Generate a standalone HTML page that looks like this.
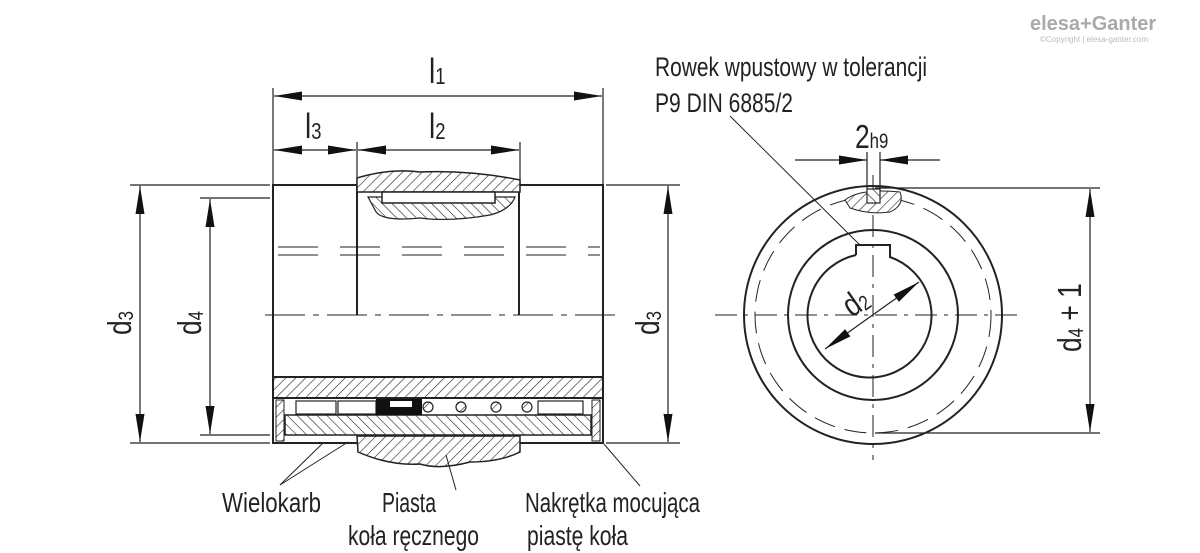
<!DOCTYPE html>
<html><head><meta charset="utf-8"><style>
html,body{margin:0;padding:0;background:#fff;}
svg{display:block;}
text{font-family:"Liberation Sans",sans-serif;fill:#222;}
</style></head><body>
<svg width="1200" height="553" viewBox="0 0 1200 553" xmlns="http://www.w3.org/2000/svg">
<defs>
<pattern id="h" patternUnits="userSpaceOnUse" width="7" height="7" patternTransform="rotate(45)">
<rect width="7" height="7" fill="#fff"/><line x1="0" y1="0" x2="0" y2="7" stroke="#222" stroke-width="1.2"/></pattern>
<pattern id="h2" patternUnits="userSpaceOnUse" width="7" height="7" patternTransform="rotate(-45)">
<rect width="7" height="7" fill="#fff"/><line x1="0" y1="0" x2="0" y2="7" stroke="#222" stroke-width="1.2"/></pattern>
<marker id="a" viewBox="0 0 28 10" refX="28" refY="5" markerWidth="28" markerHeight="10" orient="auto-start-reverse" markerUnits="userSpaceOnUse"><path d="M0,0.5 L28,5 L0,9.5 z" fill="#111"/></marker>
<marker id="b" viewBox="0 0 20 8" refX="20" refY="4" markerWidth="20" markerHeight="8" orient="auto-start-reverse" markerUnits="userSpaceOnUse"><path d="M0,0.5 L20,4 L0,7.5 z" fill="#111"/></marker>
</defs>
<g stroke="#222" fill="none" stroke-width="1.2">
<line x1="273" y1="88" x2="273" y2="185"/><line x1="603" y1="88" x2="603" y2="185"/>
<line x1="357" y1="142" x2="357" y2="185"/><line x1="520" y1="142" x2="520" y2="185"/>
<line x1="130" y1="185" x2="270" y2="185"/><line x1="130" y1="443" x2="270" y2="443"/>
<line x1="200" y1="198" x2="270" y2="198"/><line x1="200" y1="435" x2="270" y2="435"/>
<line x1="606" y1="185" x2="680" y2="185"/><line x1="606" y1="443" x2="680" y2="443"/>
<line x1="875" y1="188" x2="1100" y2="188"/><line x1="875" y1="433" x2="1100" y2="433"/>
<line x1="274" y1="96" x2="602" y2="96" marker-start="url(#a)" marker-end="url(#a)"/>
<line x1="274" y1="150" x2="356" y2="150" marker-start="url(#a)" marker-end="url(#a)"/>
<line x1="358" y1="150" x2="519" y2="150" marker-start="url(#a)" marker-end="url(#a)"/>
<line x1="140" y1="186" x2="140" y2="442" marker-start="url(#a)" marker-end="url(#a)"/>
<line x1="210" y1="199" x2="210" y2="434" marker-start="url(#a)" marker-end="url(#a)"/>
<line x1="668" y1="186" x2="668" y2="442" marker-start="url(#a)" marker-end="url(#a)"/>
<line x1="1090" y1="189" x2="1090" y2="432" marker-start="url(#a)" marker-end="url(#a)"/>
<line x1="795" y1="160" x2="867" y2="160" marker-end="url(#a)"/>
<line x1="940" y1="160" x2="880" y2="160" marker-end="url(#a)"/>
<line x1="867" y1="152" x2="867" y2="190"/><line x1="880" y1="152" x2="880" y2="190"/>
</g>
<g stroke="#222" stroke-width="2" fill="none">
<rect x="273" y="185" width="330" height="258"/>
<line x1="357" y1="185" x2="357" y2="315"/><line x1="519" y1="185" x2="519" y2="315"/>
</g>
<path d="M357,178 Q390,168 420,172 Q470,170 520,180 L520,192 L357,192 Z" fill="url(#h)" stroke="#222" stroke-width="1.5"/>
<path d="M368,197 L515,197 Q510,210 490,215 Q450,222 420,218 Q380,222 375,210 Z" fill="url(#h2)" stroke="#222" stroke-width="1.2"/>
<rect x="382" y="192" width="113" height="11" fill="#fff" stroke="#222" stroke-width="1.5"/>
<g stroke="#222" stroke-width="1" stroke-dasharray="40 22">
<line x1="278" y1="247" x2="600" y2="247"/><line x1="278" y1="255" x2="600" y2="255"/>
</g>
<line x1="265" y1="315" x2="620" y2="315" stroke="#222" stroke-width="1" stroke-dasharray="40 8 6 8"/>
<rect x="273" y="377" width="330" height="21" fill="url(#h)" stroke="#222" stroke-width="2"/>
<rect x="273" y="398" width="330" height="45" fill="none" stroke="#222" stroke-width="2"/>
<rect x="285" y="415" width="306" height="20" fill="url(#h2)" stroke="#222" stroke-width="1.5"/>
<rect x="276" y="400" width="8" height="41" fill="url(#h)" stroke="#222" stroke-width="1"/>
<rect x="592" y="400" width="8" height="41" fill="url(#h)" stroke="#222" stroke-width="1"/>
<rect x="296" y="401" width="40" height="13" fill="#fff" stroke="#222" stroke-width="1.2"/>
<rect x="338" y="401" width="38" height="13" fill="#fff" stroke="#222" stroke-width="1.2"/>
<rect x="376" y="399" width="46" height="16" fill="#111"/>
<rect x="390" y="401" width="22" height="6" fill="#fff"/>
<g fill="url(#h)" stroke="#222" stroke-width="1.2">
<circle cx="428" cy="407" r="5"/><circle cx="461" cy="407" r="5"/><circle cx="496" cy="407" r="5"/><circle cx="527" cy="407" r="5"/>
</g>
<rect x="538" y="401" width="45" height="13" fill="#fff" stroke="#222" stroke-width="1.2"/>
<path d="M357,436 L520,436 L520,452 Q500,462 470,462 Q440,470 420,464 Q390,466 358,452 Z" fill="url(#h)" stroke="#222" stroke-width="1.5"/>
<g stroke="#222" stroke-width="1">
<line x1="322" y1="444" x2="280" y2="485"/><line x1="348" y1="442" x2="280" y2="485"/>
<line x1="446" y1="455" x2="456" y2="490"/>
<line x1="604" y1="444" x2="640" y2="486"/>
<line x1="730" y1="116" x2="875" y2="260"/>
</g>
<g stroke="#222" fill="none">
<circle cx="873" cy="315" r="129" stroke-width="2"/>
<circle cx="873" cy="315" r="118" stroke-width="1" stroke-dasharray="22 10"/>
<circle cx="873" cy="315" r="85" stroke-width="2"/>
<path d="M856,255 L856,245 L890,245 L890,257 A62,62 0 1 1 856,255" stroke-width="2" fill="#fff"/>
<line x1="715" y1="315" x2="1020" y2="315" stroke-width="1" stroke-dasharray="22 7 4 7"/>
<line x1="873" y1="175" x2="873" y2="460" stroke-width="1" stroke-dasharray="22 7 4 7"/>
<line x1="825" y1="349" x2="919" y2="282" stroke-width="1.2" marker-start="url(#a)" marker-end="url(#a)"/>
</g>
<path d="M845,200 Q860,188 900,192 Q905,205 890,212 Q870,215 850,208 Z" fill="url(#h)" stroke="#222" stroke-width="1"/>
<rect x="867" y="189" width="13" height="14" fill="url(#h2)" stroke="#222" stroke-width="1.2"/>
<!-- text -->
<text transform="translate(429,83) scale(0.8,1)" font-size="35">l<tspan font-size="23" dy="1">1</tspan></text>
<text transform="translate(305,138) scale(0.8,1)" font-size="35">l<tspan font-size="23" dy="1">3</tspan></text>
<text transform="translate(429,138) scale(0.8,1)" font-size="35">l<tspan font-size="23" dy="1">2</tspan></text>
<text transform="translate(131,335) rotate(-90) scale(0.8,1)" font-size="33">d<tspan font-size="21" dy="2">3</tspan></text>
<text transform="translate(201,335) rotate(-90) scale(0.8,1)" font-size="33">d<tspan font-size="21" dy="2">4</tspan></text>
<text transform="translate(659,335) rotate(-90) scale(0.8,1)" font-size="33">d<tspan font-size="21" dy="2">3</tspan></text>
<text transform="translate(1081,352) rotate(-90) scale(0.8,1)" font-size="33">d<tspan font-size="21" dy="2">4</tspan><tspan dy="-2"> + 1</tspan></text>
<text transform="translate(852,318) rotate(-35) scale(0.8,1)" font-size="33">d<tspan font-size="21" dy="2">2</tspan></text>
<text transform="translate(855,148) scale(0.8,1)" font-size="33">2<tspan font-size="21">h9</tspan></text>
<text x="655" y="76" font-size="27" textLength="272" lengthAdjust="spacingAndGlyphs">Rowek wpustowy w tolerancji</text>
<text x="655" y="112" font-size="27" textLength="138" lengthAdjust="spacingAndGlyphs">P9 DIN 6885/2</text>
<text x="222" y="512" font-size="28" textLength="99" lengthAdjust="spacingAndGlyphs">Wielokarb</text>
<text x="382" y="512" font-size="28" textLength="54" lengthAdjust="spacingAndGlyphs">Piasta</text>
<text x="348" y="545" font-size="28" textLength="131" lengthAdjust="spacingAndGlyphs">koła ręcznego</text>
<text x="525" y="512" font-size="28" textLength="175" lengthAdjust="spacingAndGlyphs">Nakrętka mocująca</text>
<text x="527" y="545" font-size="28" textLength="101" lengthAdjust="spacingAndGlyphs">piastę koła</text>
<text x="1030" y="30" font-size="20" font-weight="bold" style="fill:#aaa">elesa+Ganter</text>
<text x="1040" y="42" font-size="8" style="fill:#bbb">©Copyright | elesa-ganter.com</text>
</svg>
</body></html>
